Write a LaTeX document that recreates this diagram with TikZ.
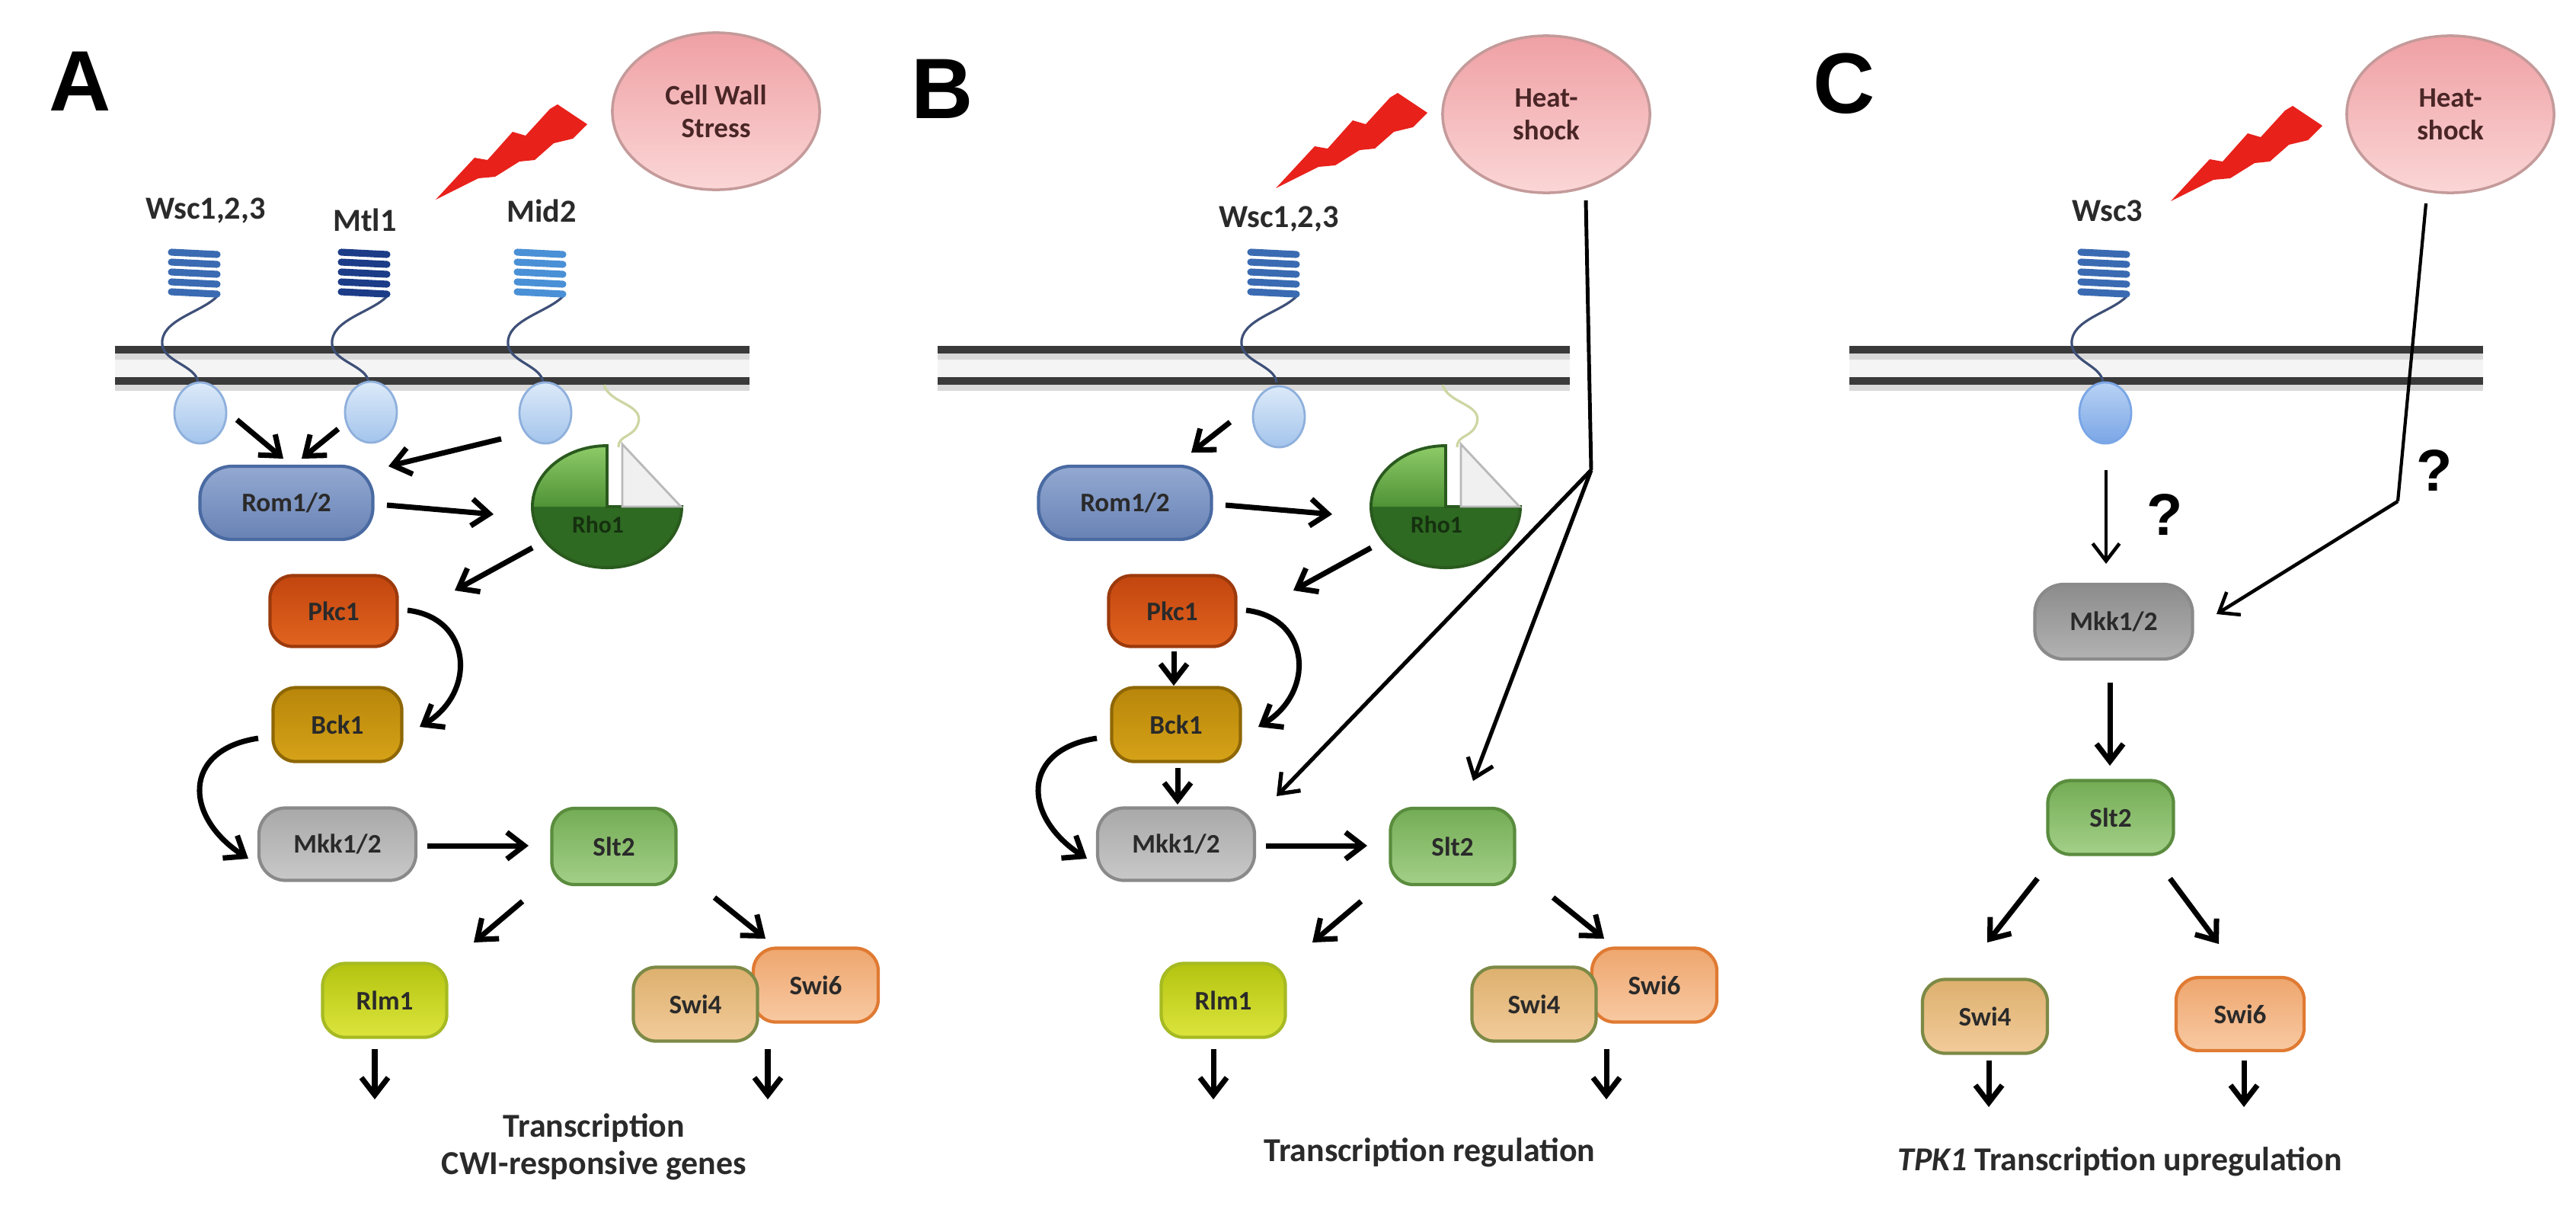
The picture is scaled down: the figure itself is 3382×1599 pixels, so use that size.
\documentclass[tikz,border=0pt]{standalone}
\usepackage{fontspec}
\setmainfont{Carlito}
\newfontfamily\panelfont{Liberation Sans}
\usetikzlibrary{shapes.geometric,arrows.meta,calc}

\definecolor{romtop}{HTML}{93A9D2}
\definecolor{rombot}{HTML}{6882B4}
\definecolor{romdr}{HTML}{4A6AA2}
\definecolor{pkctop}{HTML}{C2450F}
\definecolor{pkcbot}{HTML}{E2641F}
\definecolor{pkcdr}{HTML}{9C3A0C}
\definecolor{bcktop}{HTML}{B8860A}
\definecolor{bckbot}{HTML}{D6A218}
\definecolor{bckdr}{HTML}{8E6706}
\definecolor{mkktop}{HTML}{A9A9A9}
\definecolor{mkkbot}{HTML}{C8C8C8}
\definecolor{mkkdr}{HTML}{8A8A8A}
\definecolor{mkkCtop}{HTML}{8C8C8C}
\definecolor{mkkCbot}{HTML}{B2B2B2}
\definecolor{slttop}{HTML}{74AC55}
\definecolor{sltbot}{HTML}{A3D088}
\definecolor{sltdr}{HTML}{5A8C3E}
\definecolor{rlmtop}{HTML}{B4C410}
\definecolor{rlmbot}{HTML}{DCE43C}
\definecolor{rlmdr}{HTML}{A6BA22}
\definecolor{swiFtop}{HTML}{DDB06E}
\definecolor{swiFbot}{HTML}{F2CB9A}
\definecolor{swiFdr}{HTML}{7C8A46}
\definecolor{swiStop}{HTML}{EEA66E}
\definecolor{swiSbot}{HTML}{F8C9A2}
\definecolor{swiSdr}{HTML}{E07A32}
\definecolor{stresstop}{HTML}{EFA0A4}
\definecolor{stressbot}{HTML}{FBD6D6}
\definecolor{stressdr}{HTML}{C49A9A}
\definecolor{stresstxt}{HTML}{4A2626}
\definecolor{rholight}{HTML}{8ECB68}
\definecolor{rhomid}{HTML}{4F9236}
\definecolor{rhodark}{HTML}{2E6A22}
\definecolor{rhodr}{HTML}{2A5A1E}
\definecolor{boltred}{HTML}{E8211B}
\definecolor{ovaltop}{HTML}{DCEAF9}
\definecolor{ovalbot}{HTML}{A3C4EC}
\definecolor{ovaldr}{HTML}{8FB0DC}
\definecolor{ovalCtop}{HTML}{B8D2F4}
\definecolor{ovalCbot}{HTML}{7AA6E6}
\definecolor{coilW}{HTML}{3A6BB2}
\definecolor{coilM}{HTML}{1C3C88}
\definecolor{coilD}{HTML}{4A90D6}
\definecolor{stalkc}{HTML}{3E5078}
\definecolor{tailc}{HTML}{CDD6A2}
\definecolor{memline}{HTML}{3A3A3A}
\definecolor{txt}{HTML}{2A2A2A}

\tikzset{
  pbox/.style={rectangle, rounded corners=0.3cm, line width=1.2pt, inner sep=0pt,
    font=\bfseries\fontsize{10}{12}\selectfont, text=txt},
  arr/.style={line width=2pt, draw=black, -{Straight Barb[length=6.5pt,width=10pt]}},
  thinarr/.style={line width=1.3pt, draw=black, -{Straight Barb[length=6.5pt,width=10pt]}},
  hsline/.style={line width=1.4pt, draw=black},
  sens/.style={font=\bfseries\fontsize{12}{14}\selectfont, text=txt},
  stress/.style={ellipse, draw=stressdr, line width=1pt, top color=stresstop, bottom color=stressbot,
    minimum width=2.72cm, minimum height=2.06cm, inner sep=0pt, align=center,
    font=\bfseries\fontsize{10.5}{12.2}\selectfont, text=stresstxt},
  oval/.style={ellipse, minimum width=0.68cm, minimum height=0.80cm, inner sep=0pt, line width=0.8pt,
    draw=ovaldr, top color=ovaltop, bottom color=ovalbot},
  panel/.style={font=\panelfont\bfseries\fontsize{32}{32}\selectfont},
  capt/.style={font=\bfseries\fontsize{12.5}{14}\selectfont, text=txt, align=center},
  qm/.style={font=\panelfont\bfseries\fontsize{22}{22}\selectfont},
  mem/.style={line width=2.6pt, draw=memline},
}

\newcommand\mycoil[2]{%
  \foreach \k in {0,...,4}{%
    \draw[#2, line width=2.6pt, line cap=round] ({#1-30},{-331-13*\k}) -- ({#1+30},{-334-13*\k});
  }%
}
\newcommand\mystalk[2]{%
  \draw[stalkc, line width=0.9pt] ({#1+30},-389) .. controls ({#1+10},-410) and ({#1-45},-420) .. ({#1-42},-452)
    .. controls ({#1-40},-475) and ({#2-5},-480) .. ({#2-3},-502);
}
\newcommand\mymembrane[2]{%
  \fill[gray!9] (#1,-462) rectangle (#2,-497);
  \draw[gray!30, line width=3.5pt] (#1,-466) -- (#2,-466);
  \draw[gray!30, line width=3.5pt] (#1,-507) -- (#2,-507);
  \draw[mem] (#1,-459) -- (#2,-459);
  \draw[mem] (#1,-500) -- (#2,-500);
}
\newcommand\mybolt[2]{%
  \begin{scope}[shift={(#1,#2)}]
    \fill[boltred] (572,-262) -- (623,-207) -- (640,-210) -- (673,-173) -- (690,-178) -- (722,-143) -- (732,-137)
      -- (771,-163) -- (752,-182) -- (727,-188) -- (702,-210) -- (682,-212) -- (650,-232) -- (628,-234) -- cycle;
  \end{scope}%
}
\newcommand\cascade[2]{%
  \node[pbox, minimum width=2.27cm, minimum height=0.96cm, rounded corners=0.42cm,
    top color=romtop, bottom color=rombot, draw=romdr] (rom#2) at ({#1+376},-660) {Rom1/2};
  \draw[tailc, line width=0.9pt] ({#1+793},-505) .. controls ({#1+800},-530) and ({#1+845},-530) .. ({#1+838},-555)
    .. controls ({#1+832},-575) and ({#1+812},-570) .. ({#1+812},-587);
  \begin{scope}[shift={({#1+797},-665)}]
    \fill[rhodark] (0,0) -- (0,80) arc[start angle=90, end angle=360, x radius=0.98cm, y radius=0.8cm] -- cycle;
    \shade[top color=rholight, bottom color=rhomid] (0,0) -- (0,80) arc[start angle=90, end angle=180, x radius=0.98cm, y radius=0.8cm] -- cycle;
    \draw[rhodr, line width=1.1pt] (0,0) -- (0,80) arc[start angle=90, end angle=360, x radius=0.98cm, y radius=0.8cm] -- cycle;
    \draw[fill=gray!12, draw=gray!55, line width=0.8pt] (20,82) -- (20,0) -- (97,0) -- cycle;
  \end{scope}
  \node[inner sep=0pt, minimum size=0pt] (rho#2) at ({#1+797},-665) {};
  \node[font=\bfseries\fontsize{9}{10}\selectfont, text=rhodark!45!black] (rholab#2) at ({#1+785},-688) {Rho1};
  \node[pbox, minimum width=1.67cm, minimum height=0.93cm, top color=pkctop, bottom color=pkcbot, draw=pkcdr]
    (pkc#2) at ({#1+438},-802) {Pkc1};
  \node[pbox, minimum width=1.69cm, minimum height=0.97cm, top color=bcktop, bottom color=bckbot, draw=bckdr]
    (bck#2) at ({#1+443},-951) {Bck1};
  \node[pbox, minimum width=2.06cm, minimum height=0.95cm, rounded corners=0.35cm, top color=mkktop, bottom color=mkkbot, draw=mkkdr]
    (mkk#2) at ({#1+443},-1108) {Mkk1/2};
  \node[pbox, minimum width=1.63cm, minimum height=1.0cm, top color=slttop, bottom color=sltbot, draw=sltdr]
    (slt#2) at ({#1+806},-1111) {Slt2};
  \node[pbox, minimum width=1.63cm, minimum height=0.97cm, top color=rlmtop, bottom color=rlmbot, draw=rlmdr]
    (rlm#2) at ({#1+505},-1313) {Rlm1};
  \node[pbox, minimum width=1.64cm, minimum height=0.97cm, top color=swiStop, bottom color=swiSbot, draw=swiSdr]
    (swisix#2) at ({#1+1071},-1293) {Swi6};
  \node[pbox, minimum width=1.63cm, minimum height=0.97cm, top color=swiFtop, bottom color=swiFbot, draw=swiFdr]
    (swifour#2) at ({#1+913},-1318) {Swi4};
  \draw[arr] ($(rom#2)+(132,-3)$) -- ($(rho#2)+(-149,-10)$);
  \draw[arr] ($(rho#2)+(-98,-54)$) -- ($(pkc#2)+(159,27)$);
  \draw[arr] ($(pkc#2)+(97,1)$) .. controls +(85,-10) and +(75,45) .. ($(bck#2)+(108,-3)$);
  \draw[arr] ($(bck#2)+(-104,-18)$) .. controls +(-100,-15) and +(-85,55) .. ($(mkk#2)+(-117,-19)$);
  \draw[arr] ($(mkk#2)+(118,-2)$) -- ($(slt#2)+(-112,1)$);
  \draw[arr] ($(slt#2)+(-120,-72)$) -- ($(rlm#2)+(117,76)$);
  \draw[arr] ($(slt#2)+(132,-67)$) -- ($(swisix#2)+(-66,61)$);
  \draw[arr] ($(rlm#2)+(-13,-64)$) -- ($(rlm#2)+(-13,-130)$);
  \draw[arr] ($(swifour#2)+(95,-59)$) -- ($(swifour#2)+(95,-125)$);
}

\begin{document}
\begin{tikzpicture}[x=0.01cm, y=0.01cm]
\useasboundingbox[fill=white] (0,0) rectangle (3382,-1599);

% ---------------- Panel A ----------------
\node[panel] (labA) at (105,-107) {A};
\node[stress] (cwsA) at (940,-146) {Cell Wall\\Stress};
\mybolt{0}{0}
\node[sens] (wsclabA) at (270,-277) {Wsc1,2,3};
\node[sens] (mtllabA) at (479,-289) {Mtl1};
\node[sens] (midlabA) at (711,-277) {Mid2};
\mymembrane{151}{984}
\mystalk{255}{263}
\mystalk{478}{487}
\mystalk{709}{716}
\mycoil{255}{coilW}
\mycoil{478}{coilM}
\mycoil{709}{coilD}
\node[oval] (wscovA) at (263,-542) {};
\node[oval] (mtlovA) at (487,-541) {};
\node[oval] (midovA) at (716,-542) {};
\cascade{0}{A}
\draw[arr] ($(wscovA)+(48,-9)$) -- ($(romA)+(-4,58)$);
\draw[arr] ($(mtlovA)+(-43,-22)$) -- ($(romA)+(20,58)$);
\draw[arr] ($(midovA)+(-58,-34)$) -- ($(romA)+(134,48)$);
\node[capt] (captA) at (780,-1505) {Transcription\\CWI-responsive genes};

% ---------------- Panel B ----------------
\node[panel] (labB) at (1237,-117) {B};
\node[stress] (hsB) at (2030,-150) {Heat-\\shock};
\mybolt{1103}{15}
\node[sens] (wsclabB) at (1679,-288) {Wsc1,2,3};
\mymembrane{1231}{2061}
\mystalk{1672}{1679}
\mycoil{1672}{coilW}
\node[oval] (wscovB) at (1679,-547) {};
\cascade{1101}{B}
\draw[arr] ($(wscovB)+(-64,-7)$) -- ($(romB)+(87,66)$);
\draw[arr] ($(pkcB)+(2,-53)$) -- ($(bckB)+(-3,51)$);
\draw[arr] ($(bckB)+(2,-57)$) -- ($(mkkB)+(2,52)$);
\coordinate (vB) at (2089,-617);
\draw[hsline] ($(hsB)+(52,-113)$) -- (vB);
\draw[arr, line width=1.5pt] (vB) -- ($(mkkB)+(132,63)$);
\draw[arr, line width=1.5pt] (vB) -- ($(sltB)+(27,86)$);
\node[capt] (captB) at (1877,-1513) {Transcription regulation};

% ---------------- Panel C ----------------
\node[panel] (labC) at (2421,-110) {C};
\node[stress] (hsC) at (3217,-150) {Heat-\\shock};
\mybolt{2278}{-2}
\node[sens] (wsclabC) at (2767,-277) {Wsc3};
\mymembrane{2428}{3260}
\mystalk{2762}{2764}
\mycoil{2762}{coilW}
\node[oval, top color=ovalCtop, bottom color=ovalCbot, draw=ovalCbot] (wscovC) at (2764,-542) {};
\node[pbox, minimum width=2.07cm, minimum height=0.98cm, rounded corners=0.38cm, top color=mkkCtop, bottom color=mkkCbot, draw=mkkdr]
  (mkkC) at (2775,-816) {Mkk1/2};
\node[pbox, minimum width=1.65cm, minimum height=0.97cm, top color=slttop, bottom color=sltbot, draw=sltdr]
  (sltC) at (2771,-1073) {Slt2};
\node[pbox, minimum width=1.64cm, minimum height=0.97cm, top color=swiFtop, bottom color=swiFbot, draw=swiFdr]
  (swifourC) at (2606,-1334) {Swi4};
\node[pbox, minimum width=1.68cm, minimum height=0.96cm, top color=swiStop, bottom color=swiSbot, draw=swiSdr]
  (swisixC) at (2941,-1331) {Swi6};
\draw[thinarr] ($(wscovC)+(1,-75)$) -- ($(mkkC)+(-10,76)$);
\node[qm] (qmoneC) at (2842,-675) {?};
\coordinate (vC) at (3148,-658);
\draw[hsline, line width=1.2pt] ($(hsC)+(-32,-117)$) -- (vC);
\draw[thinarr] (vC) -- ($(mkkC)+(135,10)$);
\node[qm] (qmtwoC) at (3196,-617) {?};
\draw[arr] ($(mkkC)+(-5,-80)$) -- ($(sltC)+(-1,68)$);
\draw[arr] ($(sltC)+(-96,-80)$) -- ($(swifourC)+(3,97)$);
\draw[arr] ($(sltC)+(78,-80)$) -- ($(swisixC)+(-28,92)$);
\draw[arr] ($(swifourC)+(5,-58)$) -- ($(swifourC)+(5,-119)$);
\draw[arr] ($(swisixC)+(5,-61)$) -- ($(swisixC)+(5,-122)$);
\node[capt] (captC) at (2783,-1525) {\textit{TPK1} Transcription upregulation};
\end{tikzpicture}
\end{document}
